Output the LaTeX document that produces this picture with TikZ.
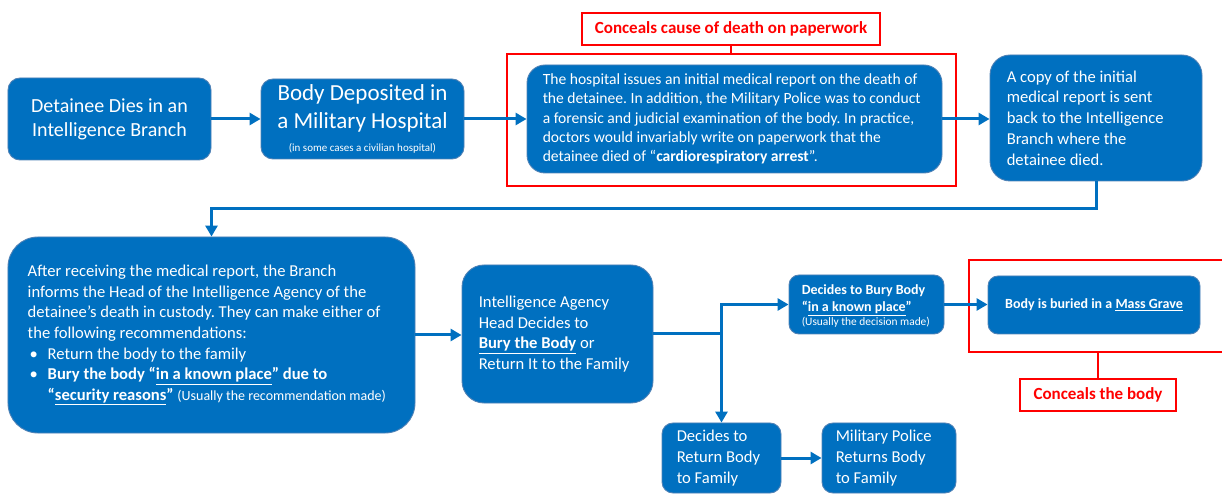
\documentclass[tikz,border=0pt]{standalone}
\usepackage{fontspec}
\setmainfont{Carlito}
\frenchspacing
\usetikzlibrary{arrows.meta,calc}
\definecolor{boxblue}{HTML}{0070C0}
\definecolor{boxedge}{HTML}{4F81B5}
\definecolor{redc}{HTML}{FF0000}
\newcommand{\fs}[2]{\fontsize{#1bp}{#2bp}\selectfont}
\tikzset{
  box/.style={draw=boxedge, line width=0.9bp, fill=boxblue, text=white, inner sep=0pt},
  cbox/.style={box, align=center},
  txt/.style={text=white, align=left, inner sep=0pt, anchor=west},
  arr/.style={draw=boxblue, line width=3bp, -{Triangle[length=11bp,width=12bp]}},
  conn/.style={draw=boxblue, line width=3bp},
  redframe/.style={draw=redc, line width=1.8bp, inner sep=0pt},
  redlabel/.style={draw=redc, line width=1.8bp, fill=white, text=redc, font=\fs{17}{20}\bfseries, inner sep=0pt},
  redline/.style={draw=redc, line width=1.8bp},
}
\begin{document}
\begin{tikzpicture}[x=1bp,y=-1bp]
\useasboundingbox (0,0) rectangle (1222,502);

% red frames behind
\node[redframe, minimum width=449bp, minimum height=132bp] (r1) at (731.5,120) {};
\node[redframe, minimum width=271bp, minimum height=92bp] (r2) at (1104.5,306) {};

% top row
\node[cbox, minimum width=203bp, minimum height=82bp, rounded corners=12bp, font=\fs{20}{24}] (b1) at (109.5,119)
  {Detainee Dies in an\\Intelligence Branch};
\node[cbox, minimum width=203bp, minimum height=80bp, rounded corners=12bp, font=\fs{23}{28}] (b2) at (362.5,119)
  {Body Deposited in\\a Military Hospital\\[-5bp]{\fs{11}{12}(in some cases a civilian hospital)}};
\node[box, minimum width=415bp, minimum height=108bp, rounded corners=18bp] (b3) at (734.5,119) {};
\node[txt, font=\fs{15.6}{19.3}] (b3t) at ($(b3.west)+(16,0)$)
  {The hospital issues an initial medical report on the death of\\
   the detainee. In addition, the Military Police was to conduct\\
   a forensic and judicial examination of the body. In practice,\\
   doctors would invariably write on paperwork that the\\
   detainee died of “\textbf{cardiorespiratory arrest}”.};
\node[box, minimum width=212bp, minimum height=126bp, rounded corners=20bp] (b4) at (1096,118) {};
\node[txt, font=\fs{16.6}{20.7}] (b4t) at ($(b4.west)+(17,0)$)
  {A copy of the initial\\medical report is sent\\back to the Intelligence\\Branch where the\\detainee died.};

% bottom row
\node[box, minimum width=407bp, minimum height=196bp, rounded corners=30bp] (b5) at (211.5,335) {};
\node[txt, font=\fs{16.6}{20.7}] (b5t) at ($(b5.west)+(20,0)$)
  {After receiving the medical report, the Branch\\
   informs the Head of the Intelligence Agency of the\\
   detainee’s death in custody. They can make either of\\
   the following recommendations:\\
   \hspace*{2bp}\makebox[18bp][l]{•}Return the body to the family\\
   \hspace*{2bp}\makebox[18bp][l]{•}\textbf{Bury the body “\underline{in a known place}” due to}\\
   \hspace*{20bp}\textbf{“\underline{security reasons}”} {\fs{14}{17}(Usually the recommendation made)}};
\node[box, minimum width=191bp, minimum height=138bp, rounded corners=22bp] (b6) at (557.5,334) {};
\node[txt, font=\fs{16.6}{20.7}] (b6t) at ($(b6.west)+(17,0)$)
  {Intelligence Agency\\Head Decides to\\\textbf{\underline{Bury the Body}} or\\Return It to the Family};
\node[box, minimum width=119bp, minimum height=70bp, rounded corners=11bp] (b7) at (721.5,458) {};
\node[txt, font=\fs{16.6}{20.7}] (b7t) at ($(b7.west)+(15,0)$)
  {Decides to\\Return Body\\to Family};
\node[box, minimum width=134bp, minimum height=70bp, rounded corners=11bp] (b8) at (889,458) {};
\node[txt, font=\fs{16.6}{20.7}] (b8t) at ($(b8.west)+(14,0)$)
  {Military Police\\Returns Body\\to Family};
\node[box, minimum width=155bp, minimum height=59bp, rounded corners=10bp] (b9) at (866.5,304.5) {};
\node[txt, font=\fs{14}{17}] (b9t) at ($(b9.west)+(13,1.5)$)
  {\textbf{Decides to Bury Body}\\\textbf{“\underline{in a known place}”}\\[-3bp]{\fs{11.4}{13}(Usually the decision made)}};
\node[cbox, minimum width=212bp, minimum height=58bp, rounded corners=10bp, font=\fs{14}{17}\bfseries] (b10) at (1094,305)
  {Body is buried in a \underline{Mass Grave}};

% red labels
\node[redlabel, minimum width=298bp, minimum height=32bp] (l1) at (731,29) {Conceals cause of death on paperwork};
\draw[redline] (l1.south) -- (l1.south |- r1.north);
\node[redlabel, minimum width=156bp, minimum height=32bp] (l2) at (1098,395) {Conceals the body};
\draw[redline] (l2.north) -- (l2.north |- r2.south);

% connectors
\draw[arr] (b1.east) -- (b1.east -| b2.west);
\draw[arr] (b2.east) -- (b2.east -| b3.west);
\draw[arr] (b3.east) -- (b3.east -| b4.west);
\draw[arr] (b4.south) -- ++(0,27) -| (b5.north);
\draw[arr] (b5.east) -- (b5.east -| b6.west);
\coordinate (j) at (b7.north |- b6.east);
\draw[conn] (b6.east) -- (j);
\draw[arr] (j) |- (b9.west);
\draw[arr] (j) -- (b7.north);
\draw[arr] (b7.east) -- (b7.east -| b8.west);
\draw[arr] (b9.east) -- (b9.east -| b10.west);
\end{tikzpicture}
\end{document}
